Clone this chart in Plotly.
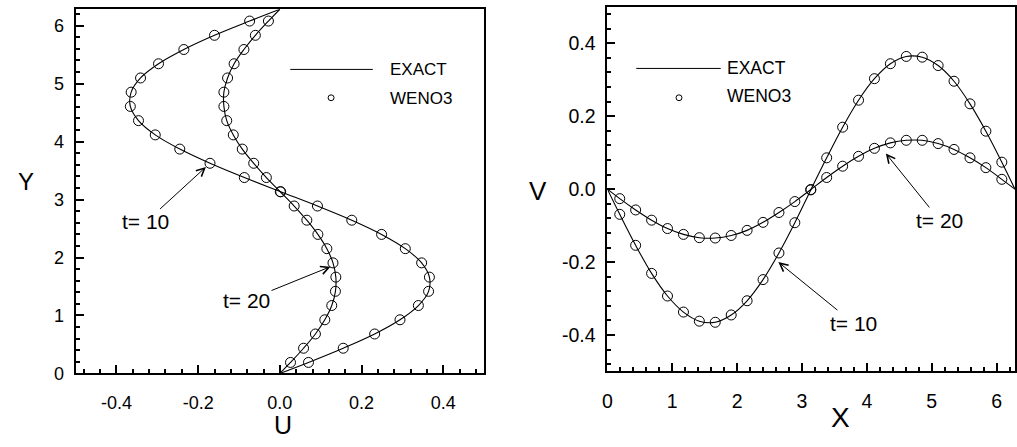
import plotly.graph_objects as go

W, H = 1017, 447

# Sample positions of the WENO3 circles (same grid on both panels)
GRID = [0.190, 0.435, 0.681, 0.926, 1.172, 1.417, 1.662, 1.908, 2.153, 2.399,
        2.644, 2.889, 3.135, 3.380, 3.626, 3.871, 4.116, 4.362, 4.607, 4.853,
        5.098, 5.343, 5.589, 5.834, 6.080]
DOMAIN_END = 6.283

# Left panel: U along Y
U_T10 = [0.070, 0.155, 0.232, 0.294, 0.339, 0.364, 0.366, 0.347, 0.307, 0.249,
         0.176, 0.092, 0.002, -0.087, -0.171, -0.245, -0.305, -0.346, -0.366, -0.364,
         -0.341, -0.297, -0.235, -0.160, -0.074]
U_T20 = [0.026, 0.058, 0.087, 0.110, 0.127, 0.136, 0.137, 0.130, 0.115, 0.093,
         0.066, 0.035, 0.001, -0.033, -0.064, -0.092, -0.114, -0.130, -0.137, -0.137,
         -0.128, -0.112, -0.088, -0.060, -0.028]

# Right panel: V along X
V_T10 = [-0.069, -0.154, -0.231, -0.293, -0.337, -0.362, -0.365, -0.345, -0.306, -0.248,
         -0.175, -0.092, -0.002, 0.086, 0.170, 0.244, 0.303, 0.344, 0.364, 0.362,
         0.339, 0.296, 0.234, 0.159, 0.074]
V_T20 = [-0.026, -0.057, -0.085, -0.108, -0.124, -0.133, -0.134, -0.127, -0.113, -0.091,
         -0.064, -0.034, -0.001, 0.032, 0.063, 0.090, 0.112, 0.127, 0.134, 0.134,
         0.125, 0.109, 0.086, 0.059, 0.027]

LEFT_XTICKS = [-0.4, -0.2, 0.0, 0.2, 0.4]
LEFT_YTICKS = [0, 1, 2, 3, 4, 5, 6]
RIGHT_XTICKS = [0, 1, 2, 3, 4, 5, 6]
RIGHT_YTICKS = [-0.4, -0.2, 0.0, 0.2, 0.4]

FONT = "Liberation Sans, Arial, Helvetica, sans-serif"
NARROW = "Liberation Sans Narrow, Liberation Sans, Arial, sans-serif"


def px(x):
    return x / W


def py(y):
    return 1 - y / H


fig = go.Figure()

line_style = dict(color="black", width=1.1, shape="spline", smoothing=1.0)
marker_style = dict(symbol="circle-open", size=10, color="black", line=dict(width=1, color="black"))

# Left panel
for u in (U_T10, U_T20):
    fig.add_trace(go.Scatter(x=[0.0] + u + [0.0], y=[0.0] + GRID + [DOMAIN_END],
                             mode="lines", line=line_style, xaxis="x", yaxis="y",
                             showlegend=False, hoverinfo="skip"))
    fig.add_trace(go.Scatter(x=u, y=GRID, mode="markers", marker=marker_style,
                             xaxis="x", yaxis="y", showlegend=False))
# Right panel
for v in (V_T10, V_T20):
    fig.add_trace(go.Scatter(x=[0.0] + GRID + [DOMAIN_END], y=[0.0] + v + [0.0],
                             mode="lines", line=line_style, xaxis="x2", yaxis="y2",
                             showlegend=False, hoverinfo="skip"))
    fig.add_trace(go.Scatter(x=GRID, y=v, mode="markers", marker=marker_style,
                             xaxis="x2", yaxis="y2", showlegend=False))

axis_common = dict(showgrid=False, zeroline=False, showline=True, linecolor="black",
                   linewidth=2, mirror=True, ticks="inside", ticklen=8, tickwidth=1.5,
                   tickcolor="black", color="black")

fig.update_layout(
    width=W, height=H,
    margin=dict(l=0, r=0, t=0, b=0),
    paper_bgcolor="white", plot_bgcolor="white",
    font=dict(family=FONT, color="black"),
    xaxis=dict(axis_common, domain=[px(71), px(482)], range=[-0.5, 0.5],
               tickvals=LEFT_XTICKS, ticktext=[f"{v:.1f}" for v in LEFT_XTICKS],
               tickfont=dict(size=18), ticklabelstandoff=12,
               minor=dict(dtick=0.04, tick0=0, ticks="inside", ticklen=4, tickcolor="black"),
               anchor="y"),
    yaxis=dict(axis_common, domain=[py(382), py(9.5)], range=[0, DOMAIN_END],
               tickvals=LEFT_YTICKS, ticktext=[str(v) for v in LEFT_YTICKS],
               tickfont=dict(size=18), ticklabelstandoff=6,
               minor=dict(dtick=0.2, tick0=0, ticks="inside", ticklen=4, tickcolor="black"),
               anchor="x"),
    xaxis2=dict(axis_common, domain=[px(606), px(1016)], range=[0, DOMAIN_END],
                tickvals=RIGHT_XTICKS, ticktext=[str(v) for v in RIGHT_XTICKS],
                tickfont=dict(size=19.5), ticklabelstandoff=11,
                minor=dict(dtick=0.2, tick0=0, ticks="inside", ticklen=4, tickcolor="black"),
                anchor="y2"),
    yaxis2=dict(axis_common, domain=[py(380), py(7)], range=[-0.5, 0.5],
                tickvals=RIGHT_YTICKS, ticktext=[f"{v:.1f}" for v in RIGHT_YTICKS],
                tickfont=dict(size=19.5), ticklabelstandoff=6,
                minor=dict(dtick=0.04, tick0=0, ticks="inside", ticklen=4, tickcolor="black"),
                anchor="x2"),
)

annotations = []
# Axis titles
for txt, x, y, s in (("Y", 21, 186, 24), ("U", 280, 435, 25), ("V", 536, 195, 26), ("X", 840, 427, 28)):
    annotations.append(dict(text=txt, x=px(x), y=py(y), xref="paper", yref="paper",
                            showarrow=False, xanchor="center", yanchor="middle",
                            font=dict(size=s, family=FONT)))

# Legend texts
for txt, x, y, s in (("EXACT", 385, 71, 17), ("WENO3", 385, 101, 17),
                     ("EXACT", 724, 70, 17.5), ("WENO3", 724, 98, 17.5)):
    annotations.append(dict(text=txt, x=px(x), y=py(y), xref="paper", yref="paper",
                            showarrow=False, xanchor="left", yanchor="middle",
                            font=dict(size=s, family=NARROW)))

# Arrow labels: (text, head x, head y, axis refs, ax, ay)
arrow_labels = [
    ("t= 10", -0.181, 3.563, "x", "y", -60, 55),
    ("t= 20", 0.124, 1.843, "x", "y", -84, 34),
    ("t= 20", 4.292, 0.098, "x2", "y2", 54, 67),
    ("t= 10", 2.635, -0.200, "x2", "y2", 75, 61),
]
for txt, hx, hy, xr, yr, ax, ay in arrow_labels:
    annotations.append(dict(text=txt, x=hx, y=hy, xref=xr, yref=yr, showarrow=True,
                            ax=ax, ay=ay, axref="pixel", ayref="pixel",
                            arrowhead=5, arrowsize=1.6, arrowwidth=1, arrowcolor="black",
                            font=dict(size=21, family=FONT)))

fig.update_layout(annotations=annotations)

# Legend sample shapes
shapes = [
    dict(type="line", xref="paper", yref="paper", x0=px(287), x1=px(370), y0=py(71), y1=py(71),
         line=dict(color="black", width=1)),
    dict(type="circle", xref="paper", yref="paper", x0=px(325), x1=px(331), y0=py(97), y1=py(103),
         line=dict(color="black", width=1)),
    dict(type="line", xref="paper", yref="paper", x0=px(635), x1=px(720), y0=py(70), y1=py(70),
         line=dict(color="black", width=1)),
    dict(type="circle", xref="paper", yref="paper", x0=px(675), x1=px(681), y0=py(97), y1=py(103),
         line=dict(color="black", width=1)),
]
fig.update_layout(shapes=shapes)

fig.write_html("out.html")
